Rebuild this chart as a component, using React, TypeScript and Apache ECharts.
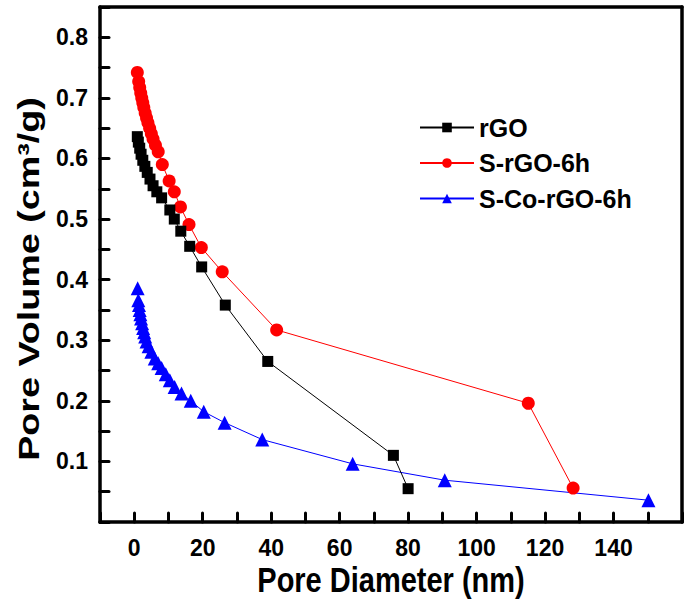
import React, { useEffect, useRef } from "react";
import * as echarts from "echarts";

const seriesNames = ["rGO", "S-rGO-6h", "S-Co-rGO-6h"];

const rgoX = [0.9, 1.2, 1.6, 2.0, 2.5, 3.1, 3.8, 4.6, 5.5, 6.6, 8.0, 10.4, 11.7, 13.6, 16.2, 19.7, 26.6, 39.0, 75.7, 80.0];
const rgoY = [0.636, 0.627, 0.617, 0.607, 0.597, 0.587, 0.577, 0.566, 0.555, 0.545, 0.535, 0.515, 0.5, 0.48, 0.455, 0.421, 0.358, 0.265, 0.11, 0.055];

const srgoX = [0.9, 1.3, 1.6, 1.9, 2.2, 2.5, 2.8, 3.2, 3.6, 4.0, 4.5, 5.0, 5.5, 6.2, 7.0, 8.2, 10.2, 11.7, 13.5, 16.0, 19.6, 25.7, 41.6, 115.1, 128.2];
const srgoY = [0.742, 0.727, 0.717, 0.708, 0.7, 0.692, 0.684, 0.675, 0.667, 0.659, 0.65, 0.641, 0.632, 0.622, 0.611, 0.59, 0.563, 0.545, 0.52, 0.491, 0.453, 0.413, 0.317, 0.196, 0.056];

const scoX = [1.0, 1.2, 1.4, 1.6, 1.8, 2.0, 2.3, 2.6, 2.9, 3.2, 3.6, 4.2, 5.0, 6.0, 7.0, 8.0, 9.2, 10.4, 11.8, 13.8, 16.5, 20.3, 26.4, 37.4, 63.8, 90.7, 150.2];
const scoY = [0.386, 0.366, 0.358, 0.35, 0.343, 0.336, 0.328, 0.32, 0.313, 0.306, 0.298, 0.29, 0.281, 0.27, 0.262, 0.254, 0.244, 0.234, 0.223, 0.212, 0.2, 0.182, 0.164, 0.136, 0.096, 0.069, 0.036];

const xTickLabels = ["0", "20", "40", "60", "80", "100", "120", "140"];
const yTickLabels = ["0.1", "0.2", "0.3", "0.4", "0.5", "0.6", "0.7", "0.8"];
const xTitle = "Pore Diameter (nm)";
const yTitle = "Pore Volume (cm³/g)";

const FONT = "'Liberation Sans', Arial, sans-serif";
const X_MIN = -10;
const X_MAX = 160;
const Y_MIN = 0;
const Y_MAX = 0.85;

function pairs(xs: number[], ys: number[]) {
  return xs.map((x, i) => [x, ys[i]]);
}

const frameLine = { show: true, onZero: false, lineStyle: { color: "#000", width: 3.5 } };
const tickStyle = { show: true, inside: true, length: 9, lineStyle: { color: "#000", width: 3, cap: "round" } };

export default function App() {
  const ref = useRef<HTMLDivElement>(null);
  useEffect(() => {
    if (!ref.current) return;
    const chart = echarts.init(ref.current, undefined, { renderer: "svg" });
    const colors = ["#000000", "#ff0000", "#0000ff"];
    const symbols = ["rect", "circle", "triangle"];
    const sizes = [11, 13, 14];
    const datas = [pairs(rgoX, rgoY), pairs(srgoX, srgoY), pairs(scoX, scoY)];
    chart.setOption({
      animation: false,
      backgroundColor: "#ffffff",
      grid: {
        left: 100,
        top: 7,
        width: 583,
        height: 515,
        show: false,
      },
      legend: {
        orient: "vertical",
        left: 414,
        top: 110,
        itemWidth: 54,
        itemHeight: 12,
        itemGap: 10.5,
        data: seriesNames,
        textStyle: {
          fontFamily: FONT,
          fontWeight: "bold",
          fontSize: 25,
          lineHeight: 25,
          color: "#000",
        },
      },
      graphic: [
        {
          type: "text",
          x: 391,
          y: 580,
          scaleY: 1.2,
          z: 10,
          style: {
            text: xTitle,
            font: `bold 29px ${FONT}`,
            fill: "#000",
            textAlign: "center",
            textVerticalAlign: "middle",
            align: "center",
            verticalAlign: "middle",
          },
        },
        {
          type: "text",
          x: 29,
          y: 279,
          rotation: Math.PI / 2,
          scaleX: 1.3,
          z: 10,
          style: {
            text: yTitle,
            font: `bold 29px ${FONT}`,
            fill: "#000",
            textAlign: "center",
            textVerticalAlign: "middle",
            align: "center",
            verticalAlign: "middle",
          },
        },
      ],
      xAxis: [
        {
          type: "value",
          position: "bottom",
          min: X_MIN,
          max: X_MAX,
          interval: 10,
          splitLine: { show: false },
          axisLine: frameLine,
          axisTick: tickStyle,
          axisLabel: {
            margin: 14,
            fontFamily: FONT,
            fontWeight: "bold",
            fontSize: 23,
            color: "#000",
            formatter: (v: number) => {
              const s = String(Math.round(v));
              return xTickLabels.includes(s) ? s : "";
            },
          },
        },
        {
          type: "value",
          position: "top",
          min: X_MIN,
          max: X_MAX,
          interval: 10,
          splitLine: { show: false },
          axisLine: frameLine,
          axisTick: { show: false },
          axisLabel: { show: false },
        },
      ],
      yAxis: [
        {
          type: "value",
          position: "left",
          min: Y_MIN,
          max: Y_MAX,
          interval: 0.05,
          splitLine: { show: false },
          axisLine: frameLine,
          axisTick: tickStyle,
          axisLabel: {
            margin: 12,
            fontFamily: FONT,
            fontWeight: "bold",
            fontSize: 23,
            color: "#000",
            formatter: (v: number) => {
              const t = v.toFixed(1);
              return Math.abs(parseFloat(t) - v) < 1e-6 && yTickLabels.includes(t) ? t : "";
            },
          },
        },
        {
          type: "value",
          position: "right",
          min: Y_MIN,
          max: Y_MAX,
          interval: 0.05,
          splitLine: { show: false },
          axisLine: frameLine,
          axisTick: { show: false },
          axisLabel: { show: false },
        },
      ],
      series: seriesNames.map((n, i) => ({
        name: n,
        type: "line",
        xAxisIndex: 0,
        yAxisIndex: 0,
        data: datas[i],
        symbol: symbols[i],
        symbolSize: sizes[i],
        showAllSymbol: true,
        itemStyle: { color: colors[i] },
        lineStyle: { color: colors[i], width: 1 },
        z: 3 - i,
      })),
    });
    return () => chart.dispose();
  }, []);
  return (
    <div
      ref={ref}
      style={{ position: "fixed", left: 0, top: 0, width: 685, height: 604, background: "#fff" }}
    />
  );
}
